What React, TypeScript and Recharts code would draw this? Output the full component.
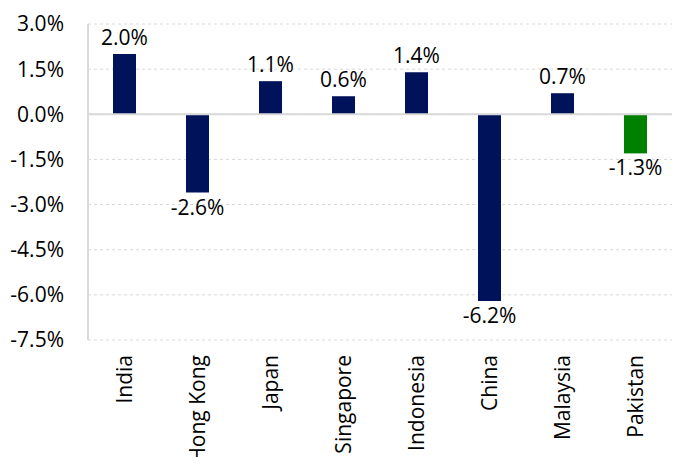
import React from 'react';
import {
    BarChart,
    Bar,
    XAxis,
    YAxis,
    CartesianGrid,
    ReferenceLine,
    LabelList,
    Cell,
} from 'recharts';

const countries = ['India', 'Hong Kong', 'Japan', 'Singapore', 'Indonesia', 'China', 'Malaysia', 'Pakistan'];
const changes = [2.0, -2.6, 1.1, 0.6, 1.4, -6.2, 0.7, -1.3];
const yTicks = [-7.5, -6.0, -4.5, -3.0, -1.5, 0.0, 1.5, 3.0];

const NAVY = '#00135a';
const GREEN = '#008000';
const FONT = '"Open Sans", sans-serif';
const FS = 21;

const data = countries.map((country, i) => ({ country, change: changes[i] }));

const CategoryTick = (props: any) => {
    const { x, y, payload } = props;
    return (
        <text
            x={x}
            y={y}
            dy="0.35em"
            transform={`rotate(-90, ${x}, ${y})`}
            textAnchor="end"
            fill="#000"
            fontSize={FS}
            fontFamily={FONT}
        >
            {payload.value}
        </text>
    );
};

const ValueLabel = (props: any) => {
    const { x, y, width, height, value } = props;
    const top = Math.min(y, y + height);
    const bottom = Math.max(y, y + height);
    const cx = x + width / 2;
    const ty = value >= 0 ? top - 9 : bottom + 22;
    return (
        <text x={cx} y={ty} textAnchor="middle" fill="#000" fontSize={FS} fontFamily={FONT}>
            {value.toFixed(1)}%
        </text>
    );
};

const App: React.FC = () => {
    return (
        <div style={{ position: 'absolute', left: 0, top: 0, width: 673, height: 457, background: '#fff' }}>
            <BarChart
                width={673}
                height={457}
                data={data}
                margin={{ top: 24, right: 1, bottom: 0, left: 0 }}
            >
                <CartesianGrid vertical={false} stroke="#d9d9d9" strokeDasharray="3 3" />
                <XAxis
                    dataKey="country"
                    height={117}
                    axisLine={false}
                    tickLine={false}
                    tickSize={0}
                    tickMargin={15}
                    interval={0}
                    tick={<CategoryTick />}
                />
                <YAxis
                    width={88}
                    domain={[-7.5, 3]}
                    ticks={yTicks}
                    interval={0}
                    axisLine={{ stroke: '#d9d9d9', strokeWidth: 2 }}
                    tickLine={false}
                    tickSize={0}
                    tickMargin={24}
                    tickFormatter={(v: number) => `${v.toFixed(1)}%`}
                    tick={{ fill: '#000', fontSize: FS, fontFamily: FONT }}
                />
                <ReferenceLine y={0} stroke="#d9d9d9" strokeWidth={2} />
                <Bar dataKey="change" barSize={23} isAnimationActive={false}>
                    {data.map((d) => (
                        <Cell key={d.country} fill={d.country === 'Pakistan' ? GREEN : NAVY} />
                    ))}
                    <LabelList dataKey="change" content={<ValueLabel />} />
                </Bar>
            </BarChart>
        </div>
    );
};

export default App;
